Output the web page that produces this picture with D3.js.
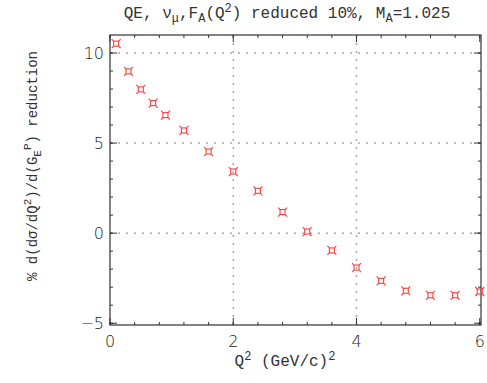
<!DOCTYPE html>
<html>
<head>
<meta charset="utf-8">
<script src="https://cdn.jsdelivr.net/npm/d3@7"></script>
<style>
  body { margin: 0; background: #fff; }
  svg { display: block; }
  .tick-label { font-family: "DejaVu Sans"; font-weight: 200; font-size: 16px; fill: #222; }
  .mono { font-family: "Liberation Mono"; fill: #333; }
</style>
</head>
<body>
<div id="chart"></div>
<script>
// values
var q2 = [0.1, 0.3, 0.5, 0.7, 0.9, 1.2, 1.6, 2.0, 2.4, 2.8, 3.2, 3.6, 4.0, 4.4, 4.8, 5.2, 5.6, 6.0];
var reduction = [10.52, 8.98, 7.98, 7.22, 6.55, 5.70, 4.53, 3.42, 2.35, 1.17, 0.09, -0.96, -1.91, -2.65, -3.2, -3.45, -3.45, -3.24];
var xTicks = [0, 2, 4, 6];
var yTicks = [-5, 0, 5, 10];
var xMinor = d3.range(0, 6.01, 0.4);
var yMinor = d3.range(-5, 11, 1);

var W = 487, H = 383;
var pLeft = 110, pRight = 481, pTop = 35, pBottom = 325;

var x = d3.scaleLinear().domain([0, 6.02]).range([pLeft, pRight]);
var y = d3.scaleLinear().domain([-5.1, 11.0]).range([pBottom, pTop]);

var svg = d3.select('#chart').append('svg')
  .attr('width', W).attr('height', H);

// dotted grid at major ticks
var grid = svg.append('g').attr('stroke', '#aaa').attr('stroke-width', 1.5)
  .attr('stroke-dasharray', '2,6');
grid.selectAll('line.gx')
  .data(xTicks.filter(function (d) { return d > 0 && d < 6; }))
  .enter().append('line')
  .attr('x1', function (d) { return x(d); }).attr('x2', function (d) { return x(d); })
  .attr('y1', pBottom).attr('y2', pTop);
grid.selectAll('line.gy')
  .data(yTicks.filter(function (d) { return d > -5; }))
  .enter().append('line')
  .attr('y1', function (d) { return y(d); }).attr('y2', function (d) { return y(d); })
  .attr('x1', pLeft).attr('x2', pRight);

// axes, ticks inward on all sides
var tk = svg.append('g').attr('stroke', '#333').attr('stroke-width', 1);
function vticks(data, len) {
  data.forEach(function (d) {
    tk.append('line').attr('x1', x(d)).attr('x2', x(d)).attr('y1', pBottom).attr('y2', pBottom - len);
    tk.append('line').attr('x1', x(d)).attr('x2', x(d)).attr('y1', pTop).attr('y2', pTop + len);
  });
}
function hticks(data, len) {
  data.forEach(function (d) {
    tk.append('line').attr('y1', y(d)).attr('y2', y(d)).attr('x1', pLeft).attr('x2', pLeft + len);
    tk.append('line').attr('y1', y(d)).attr('y2', y(d)).attr('x1', pRight).attr('x2', pRight - len);
  });
}
vticks(xMinor, 3);
vticks(xTicks, 7);
hticks(yMinor, 3);
hticks(yTicks, 7);

svg.append('rect')
  .attr('x', pLeft).attr('y', pTop)
  .attr('width', pRight - pLeft).attr('height', pBottom - pTop)
  .attr('fill', 'none').attr('stroke', '#333').attr('stroke-width', 1.2);

// tick labels
svg.selectAll('text.xl').data(xTicks).enter().append('text')
  .attr('class', 'tick-label')
  .attr('x', function (d) { return x(d); }).attr('y', 347)
  .attr('text-anchor', 'middle')
  .text(function (d) { return d; });
svg.selectAll('text.yl').data(yTicks).enter().append('text')
  .attr('class', 'tick-label')
  .attr('x', 104).attr('y', function (d) { return y(d) + 6; })
  .attr('text-anchor', 'end')
  .text(function (d) { return d < 0 ? '\u2212' + Math.abs(d) : d; });

// markers: small square with corner ticks
var mk = svg.append('g').attr('stroke', '#ff3b3b').attr('fill', 'none').attr('stroke-width', 1.1);
var pts = mk.selectAll('g.pt').data(q2).enter().append('g')
  .attr('transform', function (d, i) { return 'translate(' + x(d) + ',' + y(reduction[i]) + ')'; });
pts.append('rect').attr('x', -2.5).attr('y', -2.5).attr('width', 5).attr('height', 5);
pts.append('path').attr('d', 'M-2.5,-2.5L-4.5,-4.5M2.5,-2.5L4.5,-4.5M-2.5,2.5L-4.5,4.5M2.5,2.5L4.5,4.5');

// title
var title = svg.append('text').attr('class', 'mono')
  .attr('x', 287).attr('y', 18).attr('text-anchor', 'middle').attr('font-size', 16);
title.append('tspan').text('QE, \u03bd');
title.append('tspan').attr('font-size', 12).attr('dy', 4).text('\u03bc');
title.append('tspan').attr('dy', -4).text(',F');
title.append('tspan').attr('font-size', 12).attr('dy', 4).text('A');
title.append('tspan').attr('dy', -4).text('(Q');
title.append('tspan').attr('font-size', 12).attr('dy', -6).text('2');
title.append('tspan').attr('dy', 6).text(') reduced 10%, M');
title.append('tspan').attr('font-size', 12).attr('dy', 4).text('A');
title.append('tspan').attr('dy', -4).text('=1.025');

// x axis label
var xl = svg.append('text').attr('class', 'mono')
  .attr('x', 285).attr('y', 366).attr('text-anchor', 'middle').attr('font-size', 16);
xl.append('tspan').text('Q');
xl.append('tspan').attr('font-size', 12).attr('dy', -6).text('2');
xl.append('tspan').attr('dy', 6).text(' (GeV/c)');
xl.append('tspan').attr('font-size', 12).attr('dy', -6).text('2');

// y axis label
var yl = svg.append('text').attr('class', 'mono')
  .attr('transform', 'translate(37,166) rotate(-90)')
  .attr('text-anchor', 'middle').attr('font-size', 14);
yl.append('tspan').text('% d(d\u03c3/dQ');
yl.append('tspan').attr('font-size', 11).attr('dy', -6).text('2');
yl.append('tspan').attr('dy', 6).text(')/d(G');
yl.append('tspan').attr('font-size', 11).attr('dy', 4).text('E');
yl.append('tspan').attr('font-size', 11).attr('dy', -10).text('P');
yl.append('tspan').attr('dy', 6).text(') reduction');
</script>
</body>
</html>
